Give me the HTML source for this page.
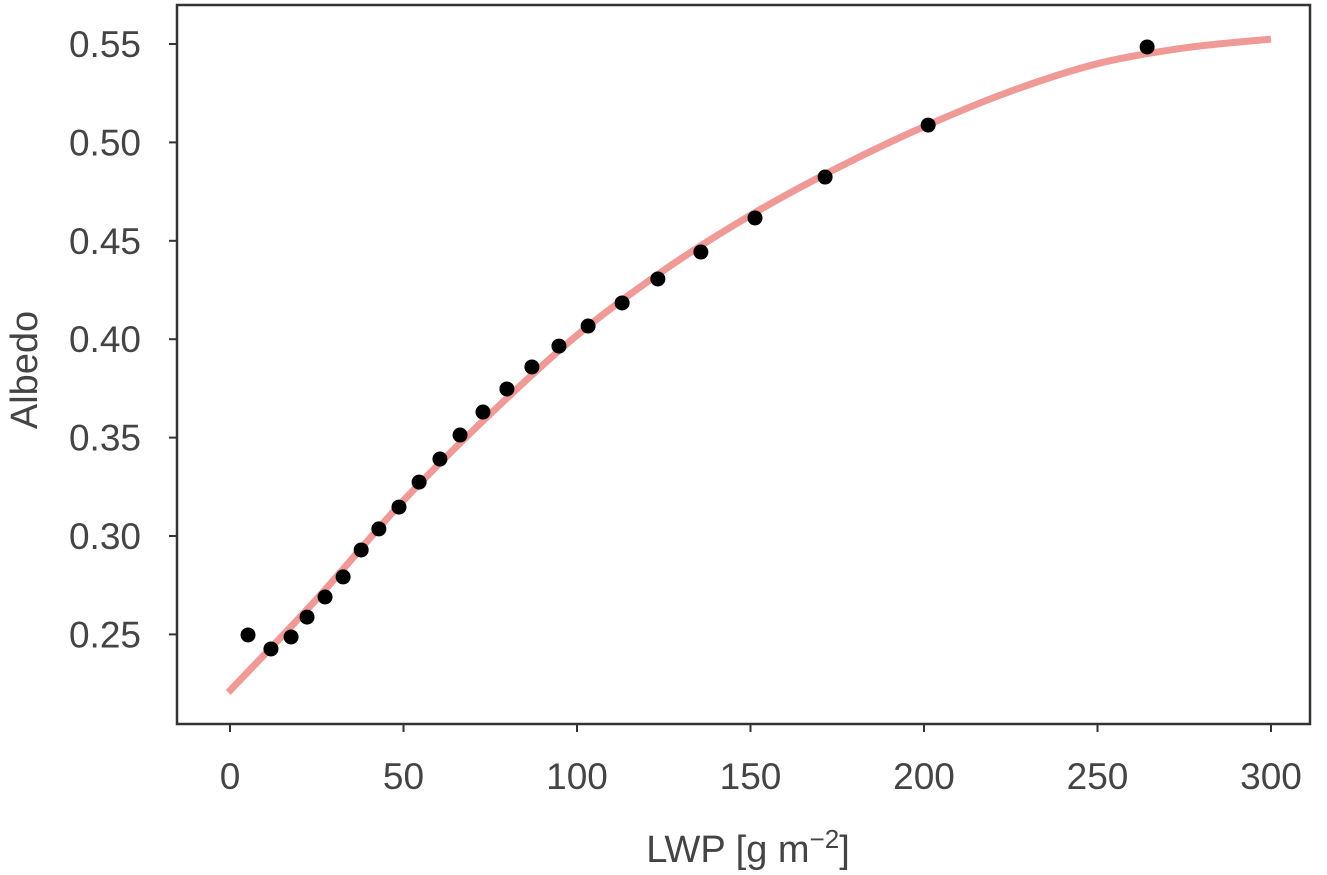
<!DOCTYPE html>
<html><head><meta charset="utf-8"><style>
html,body{margin:0;padding:0;background:#fff;}
svg{display:block;font-family:"Liberation Sans",sans-serif;}
</style></head><body>
<svg id="chart" width="1327" height="875" viewBox="0 0 1327 875"></svg>
<script>
const xTicks=[0,50,100,150,200,250,300];
const yTicks=[0.25,0.30,0.35,0.40,0.45,0.50,0.55];
const obsLWP=[5.2,11.8,17.6,22.2,27.4,32.6,37.8,42.9,48.7,54.5,60.5,66.3,72.9,79.8,87.0,94.8,103.2,113.0,123.3,135.7,151.3,171.5,201.2,264.3];
const obsAlbedo=[0.2497,0.2426,0.2487,0.2588,0.269,0.2792,0.2929,0.3036,0.3147,0.3274,0.3391,0.3513,0.363,0.3747,0.3859,0.3965,0.4067,0.4184,0.4306,0.4443,0.4616,0.4824,0.5088,0.5485];
const fitLWP=[-0.5,25,50,75,100,125,150,175,200,225,250,275,300];
const fitAlbedo=[0.2205,0.268,0.318,0.362,0.402,0.435,0.463,0.487,0.508,0.526,0.540,0.548,0.5525];
const NS="http://www.w3.org/2000/svg";
const svg=document.getElementById('chart');
const L=177,R=1310,T=5,B=724;
const X=v=>230+v*3.47;
const Y=v=>44+(0.55-v)*1968;
function mk(t,a,p){const e=document.createElementNS(NS,t);for(const k in a)e.setAttribute(k,a[k]);(p||svg).appendChild(e);return e;}
let pts=fitLWP.map((v,i)=>[X(v),Y(fitAlbedo[i])]);
let d=`M${pts[0][0]},${pts[0][1]}`;
for(let i=0;i<pts.length-1;i++){const p0=pts[Math.max(0,i-1)],p1=pts[i],p2=pts[i+1],p3=pts[Math.min(pts.length-1,i+2)];
d+=` C${p1[0]+(p2[0]-p0[0])/6},${p1[1]+(p2[1]-p0[1])/6} ${p2[0]-(p3[0]-p1[0])/6},${p2[1]-(p3[1]-p1[1])/6} ${p2[0]},${p2[1]}`;}
const fl=mk('path',{d:d,fill:'none',stroke:'#f09a98',"stroke-width":7,"stroke-linecap":"butt"});


obsLWP.forEach((v,i)=>{const c=mk('circle',{cx:X(v),cy:Y(obsAlbedo[i]),r:7.5,fill:'#000'});

});
const fr=mk('rect',{x:L,y:T,width:R-L,height:B-T,fill:'none',stroke:'#333',"stroke-width":2.5});


xTicks.forEach(v=>{mk('line',{x1:X(v),x2:X(v),y1:B,y2:B+8,stroke:'#333',"stroke-width":2});
const t=mk('text',{x:X(v),y:B+65,"text-anchor":"middle","font-size":37,fill:'#444'});t.textContent=v;

});
yTicks.forEach(v=>{mk('line',{x1:L-8,x2:L,y1:Y(v),y2:Y(v),stroke:'#333',"stroke-width":2});
const t=mk('text',{x:L-36,y:Y(v)+13,"text-anchor":"end","font-size":37,fill:'#444'});t.textContent=v.toFixed(2);

});
const xl=mk('text',{x:748,y:862,"text-anchor":"middle","font-size":38,fill:'#444'});
xl.innerHTML='LWP [g m<tspan dy="-14" font-size="26">−2</tspan><tspan dy="14">]</tspan>';


const yl=mk('text',{x:24,y:370,"text-anchor":"middle","font-size":38,fill:'#444',transform:'rotate(-90 24 370)'});
yl.setAttribute('dy','13');
yl.textContent='Albedo';


</script>
</body></html>
